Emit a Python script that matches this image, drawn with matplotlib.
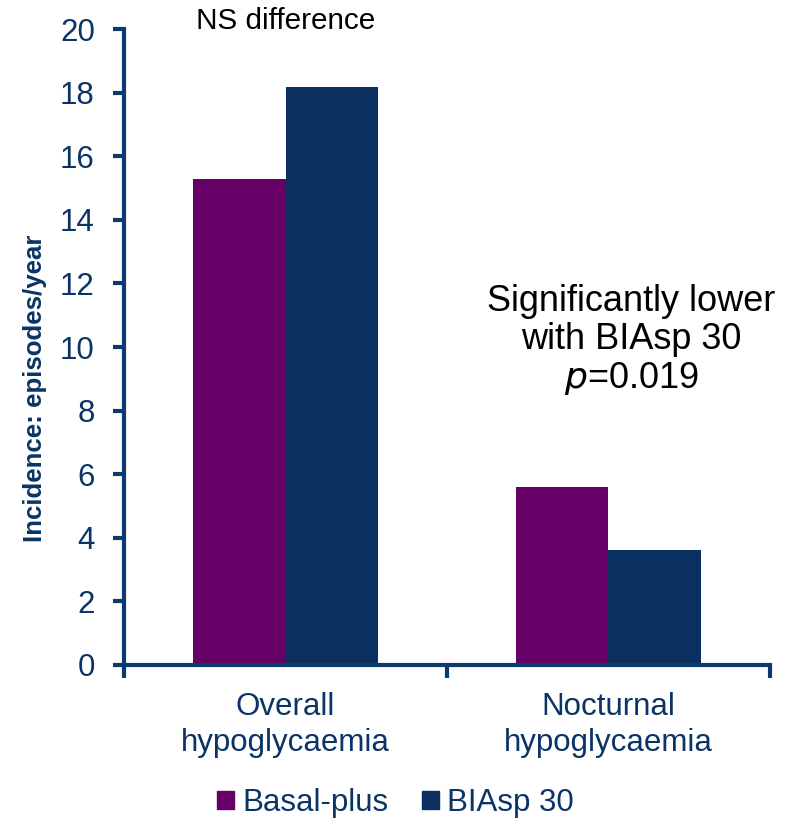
import matplotlib.pyplot as plt
import numpy as np
from matplotlib.patches import Patch

plt.rcParams['font.family'] = ['Liberation Sans', 'DejaVu Sans']

categories = ["Overall\nhypoglycaemia", "Nocturnal\nhypoglycaemia"]
series = ["Basal-plus", "BIAsp 30"]
basal_plus = [15.3, 5.6]
biasp_30 = [18.2, 3.6]
colors = ["#660066", "#0B2F5E"]
yticks = [0, 2, 4, 6, 8, 10, 12, 14, 16, 18, 20]

axis_col = "#0B3B6E"
text_col = "#0A3466"

fig = plt.figure(figsize=(7.96, 8.19), dpi=100)
ax = fig.add_axes([0.1558, 0.1884, 0.8115, 0.7758])

x = np.arange(len(categories))
w = 0.287
ax.bar(x - w / 2, basal_plus, w, color=colors[0])
ax.bar(x + w / 2, biasp_30, w, color=colors[1])

ax.set_xlim(-0.5, 1.5)
ax.set_ylim(0, 20)
ax.set_yticks(yticks)
ax.set_yticklabels([str(t) for t in yticks])

# category ticks sit on the group boundaries, labels in between
ax.set_xticks([-0.5, 0.5, 1.5])
ax.set_xticklabels([])
ax.set_xticks(x, minor=True)
ax.set_xticklabels(categories, minor=True, fontsize=22.5, color=text_col,
                   linespacing=1.25)
ax.tick_params(axis='x', which='minor', length=0, pad=20)
ax.tick_params(axis='x', which='major', direction='out', length=9, width=3,
               color=axis_col)
ax.tick_params(axis='y', direction='out', length=8, width=3, color=axis_col,
               labelsize=22.5, labelcolor=text_col, pad=13)

for side in ['top', 'right']:
    ax.spines[side].set_visible(False)
for side in ['left', 'bottom']:
    ax.spines[side].set_color(axis_col)
    ax.spines[side].set_linewidth(3)

ax.set_ylabel("Incidence: episodes/year", fontsize=18.6, fontweight='bold',
              color=text_col)
ax.yaxis.set_label_coords(-0.12, 0.435)

ax.text(0.0, 20.27, "NS difference", ha='center', va='center', fontsize=21.4,
        color='black', clip_on=False)
ax.text(1.07, 10.2, "Significantly lower\nwith BIAsp 30\n$\\it{p}$=0.019",
        ha='center', va='center', fontsize=26, color='black', linespacing=1.1)

handles = [Patch(color=c) for c in colors]
fig.legend(handles, series, loc='center', bbox_to_anchor=(0.497, 1 - 803 / 819),
           ncol=2, frameon=False, fontsize=22.5, labelcolor=text_col,
           handlelength=0.53, handleheight=0.53, handletextpad=0.26,
           columnspacing=1.1)

fig.savefig("out.png", dpi=100)
